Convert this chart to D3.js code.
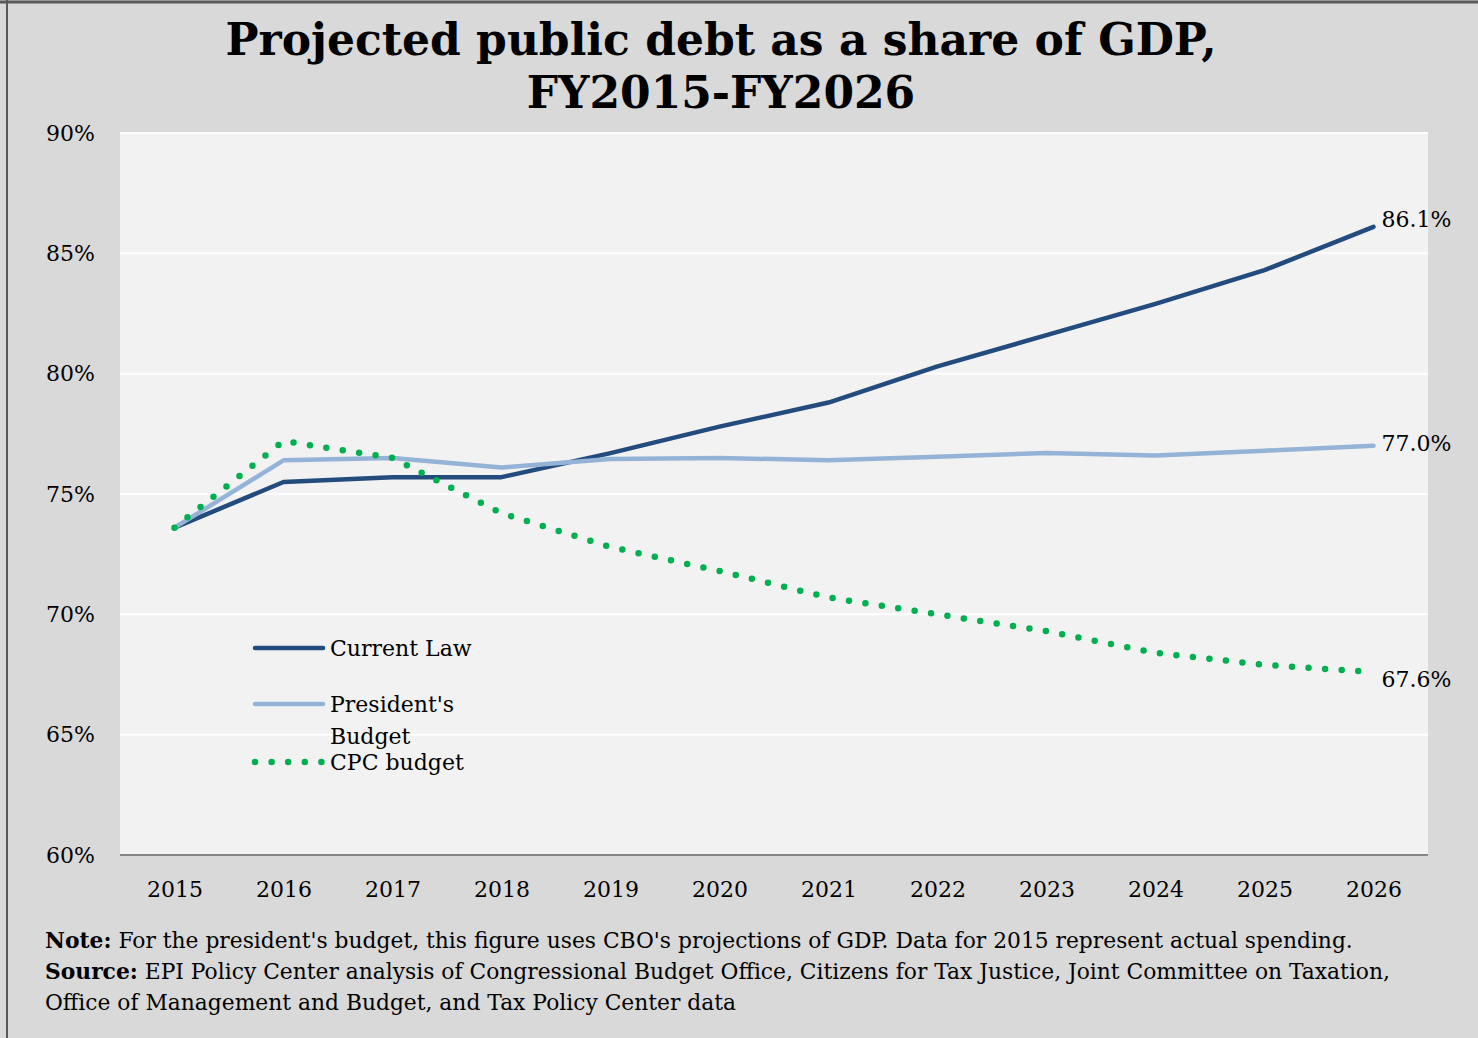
<html>
<head>
    <script src="https://d3js.org/d3.v7.min.js"></script>
    <style>
        body { margin: 0; background: #fff; }
        text { font-family: "DejaVu Serif", serif; fill: #000; }
    </style>
</head>
<body>
    <svg id="plot" width="1478" height="1038"></svg>
    <script>
        const years = ["2015", "2016", "2017", "2018", "2019", "2020", "2021", "2022", "2023", "2024", "2025", "2026"];
        const currentLaw = [73.6, 75.5, 75.7, 75.7, 76.7, 77.8, 78.8, 80.3, 81.6, 82.9, 84.3, 86.1];
        const presidents = [73.6, 76.4, 76.5, 76.1, 76.45, 76.5, 76.4, 76.55, 76.7, 76.6, 76.8, 77.0];
        const cpc = [73.6, 77.2, 76.5, 74.2, 72.8, 71.8, 70.7, 70.0, 69.3, 68.4, 67.9, 67.6];
        const yTicks = [60, 65, 70, 75, 80, 85, 90];

        const series = [
            { name: "Current Law", values: currentLaw, color: "#234b7d", width: 4.5, dash: null, label: "86.1%", labelDy: 0 },
            { name: "President's Budget", values: presidents, color: "#95b3d7", width: 4.5, dash: null, label: "77.0%", labelDy: 5 },
            { name: "CPC budget", values: cpc, color: "#00b050", width: 6.5, dash: "0 16.6", label: "67.6%", labelDy: 15 }
        ];

        const svg = d3.select("#plot");
        const W = 1478, H = 1038;
        const plot = { left: 120, right: 1428, top: 133, bottom: 855 };

        // background + frame
        svg.append("rect").attr("width", W).attr("height", H).attr("fill", "#d9d9d9");
        svg.append("line").attr("x1", 0).attr("x2", W).attr("y1", 2).attr("y2", 2)
            .attr("stroke", "#595959").attr("stroke-width", 3);
        svg.append("line").attr("x1", 7).attr("x2", 7).attr("y1", 0).attr("y2", H)
            .attr("stroke", "#595959").attr("stroke-width", 2);

        svg.append("rect")
            .attr("x", plot.left).attr("y", plot.top)
            .attr("width", plot.right - plot.left).attr("height", plot.bottom - plot.top)
            .attr("fill", "#f2f2f2");

        const x = d3.scalePoint().domain(years).range([plot.left, plot.right]).padding(0.5);
        const y = d3.scaleLinear().domain([60, 90]).range([plot.bottom, plot.top]);

        // gridlines
        svg.append("g").selectAll("line").data(yTicks.filter(d => d > 60))
            .join("line")
            .attr("x1", plot.left).attr("x2", plot.right)
            .attr("y1", d => y(d)).attr("y2", d => y(d))
            .attr("stroke", "#fff").attr("stroke-width", 2);

        // y axis labels
        const yAxis = svg.append("g")
            .attr("transform", "translate(" + (plot.left - 25) + ",0)")
            .call(d3.axisLeft(y).tickValues(yTicks).tickSize(0).tickPadding(0).tickFormat(d => d + "%"));
        yAxis.select(".domain").remove();
        yAxis.selectAll("text").attr("font-size", 22).attr("font-family", "DejaVu Serif").attr("fill", "#000");

        // x axis
        const xAxis = svg.append("g")
            .attr("transform", "translate(0," + plot.bottom + ")")
            .call(d3.axisBottom(x).tickSize(0).tickPadding(26));
        xAxis.select(".domain").attr("stroke", "#868686").attr("stroke-width", 2)
            .attr("d", "M" + plot.left + ",0H" + plot.right);
        xAxis.selectAll("text").attr("font-size", 22).attr("font-family", "DejaVu Serif").attr("fill", "#000");

        const line = d3.line().x((d, i) => x(years[i])).y(d => y(d));

        svg.append("g").selectAll("path").data(series)
            .join("path")
            .attr("d", d => line(d.values))
            .attr("fill", "none")
            .attr("stroke", d => d.color)
            .attr("stroke-width", d => d.width)
            .attr("stroke-linecap", "round")
            .attr("stroke-linejoin", "round")
            .attr("stroke-dasharray", d => d.dash);

        // end labels
        svg.append("g").selectAll("text").data(series)
            .join("text")
            .attr("x", x("2026") + 8)
            .attr("y", d => y(d.values[d.values.length - 1]) + d.labelDy)
            .attr("font-size", 22)
            .text(d => d.label);

        // legend
        const legendY = [648, 704, 762];
        const legend = svg.append("g");
        legend.selectAll("line").data(series)
            .join("line")
            .attr("x1", 255).attr("x2", 323)
            .attr("y1", (d, i) => legendY[i]).attr("y2", (d, i) => legendY[i])
            .attr("stroke", d => d.color)
            .attr("stroke-width", d => d.width)
            .attr("stroke-linecap", "round")
            .attr("stroke-dasharray", d => d.dash);
        legend.selectAll("text").data(series)
            .join("text")
            .attr("x", 330)
            .attr("y", (d, i) => legendY[i] + 8)
            .attr("font-size", 22)
            .each(function (d) {
                const t = d3.select(this);
                if (d.name === "President's Budget") {
                    t.append("tspan").attr("x", 330).text("President's");
                    t.append("tspan").attr("x", 330).attr("dy", 32).text("Budget");
                } else {
                    t.text(d.name);
                }
            });

        // title
        const title = svg.append("text")
            .attr("x", 721).attr("text-anchor", "middle")
            .attr("font-size", 44).attr("font-weight", "bold");
        title.append("tspan").attr("x", 721).attr("y", 55).text("Projected public debt as a share of GDP,");
        title.append("tspan").attr("x", 721).attr("y", 108).text("FY2015-FY2026");

        // notes
        const notes = [
            { bold: "Note:", rest: " For the president's budget, this figure uses CBO's projections of GDP. Data for 2015 represent actual spending.", y: 948 },
            { bold: "Source:", rest: " EPI Policy Center analysis of Congressional Budget Office, Citizens for Tax Justice, Joint Committee on Taxation,", y: 979 },
            { bold: "", rest: "Office of Management and Budget, and Tax Policy Center data", y: 1010 }
        ];
        notes.forEach(n => {
            const t = svg.append("text").attr("x", 45).attr("y", n.y).attr("font-size", 21.8);
            if (n.bold) t.append("tspan").attr("font-weight", "bold").text(n.bold);
            t.append("tspan").text(n.rest);
        });
    </script>
</body>
</html>
